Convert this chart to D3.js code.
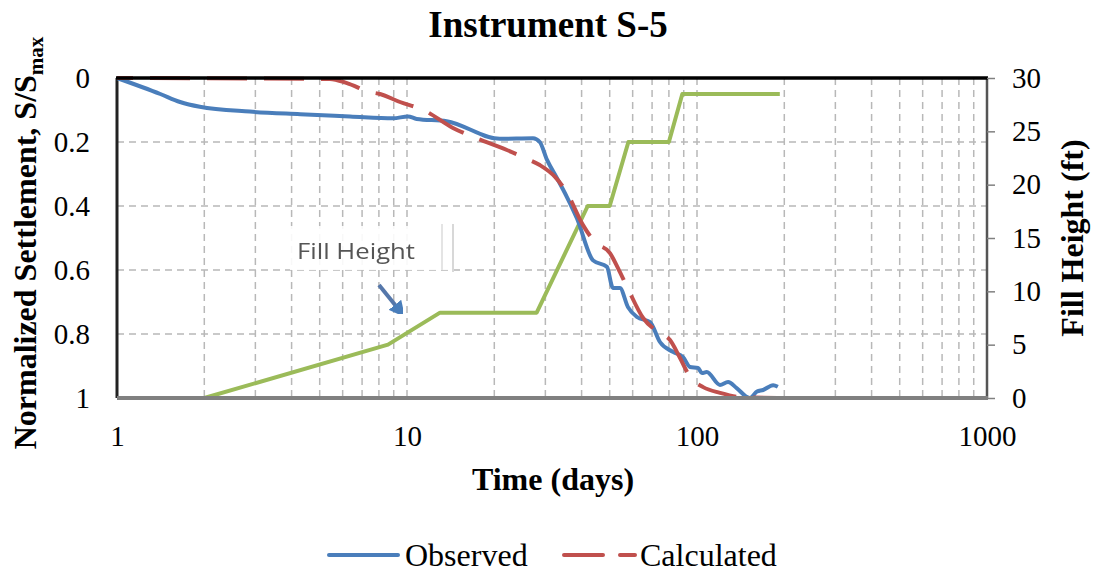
<!DOCTYPE html>
<html><head><meta charset="utf-8">
<script src="https://cdn.jsdelivr.net/npm/d3@7/dist/d3.min.js"></script>
<style>body{margin:0;background:#fff}svg{display:block}</style>
</head><body><svg id="c" width="1095" height="574"></svg>
<script>
const titleText = "Instrument S-5";
const xTicks = [1, 10, 100, 1000];
const leftTicks = [0, 0.2, 0.4, 0.6, 0.8, 1];
const rightTicks = [0, 5, 10, 15, 20, 25, 30];

const observedT = [1, 1.41, 1.65, 1.93, 2.87, 4.28, 6.36, 8.95, 10.08, 10.8, 13.7, 20.9, 27.2, 28.7, 30.4, 32.9, 35.6, 38.6, 43.8, 48.9, 51.3, 54.2, 57.8, 62.1, 68.9, 74.5, 82.6, 89.5, 94.6, 100.8, 104, 108, 120, 128, 137, 152, 161, 169, 183, 190];
const observedS = [0, 0.05, 0.075, 0.09, 0.105, 0.113, 0.12, 0.126, 0.12, 0.128, 0.135, 0.19, 0.188, 0.2, 0.256, 0.313, 0.372, 0.44, 0.57, 0.59, 0.656, 0.656, 0.716, 0.747, 0.763, 0.825, 0.856, 0.872, 0.903, 0.906, 0.922, 0.919, 0.959, 0.95, 0.969, 1.0, 0.98, 0.975, 0.96, 0.965];

const calcT = [1, 5.42, 6.21, 7.45, 8.07, 9.46, 11.4, 14.4, 16.9, 22.1, 25.5, 28.7, 32.4, 35.6, 40.4, 44.5, 50.1, 53.4, 57.4, 65.2, 73.4, 80.7, 87.4, 94.6, 105, 120, 141, 189];
const calcS = [0, 0.003, 0.016, 0.044, 0.05, 0.075, 0.1, 0.156, 0.184, 0.225, 0.25, 0.272, 0.309, 0.359, 0.459, 0.513, 0.547, 0.594, 0.653, 0.75, 0.794, 0.819, 0.875, 0.934, 0.966, 0.984, 0.997, 1.0];

const fillT = [1, 2, 8.6, 13, 28, 42, 50, 58, 80, 89, 193];
const fillH = [0, 0, 5, 8, 8, 18, 18, 24, 24, 28.5, 28.5];

const svg = d3.select("#c");
const L = 117, R = 987, T = 78, B = 398;
const x = d3.scaleLog().domain([1, 1000]).range([L, R]);
const yL = d3.scaleLinear().domain([0, 1]).range([T, B]);
const yR = d3.scaleLinear().domain([0, 30]).range([B, T]);
const serif = "'Liberation Serif','Times New Roman',serif";

// gridlines
const minor = [];
[1, 10, 100].forEach(d => { for (let k = 2; k <= 9; k++) minor.push(d * k); });
minor.push(10, 100);
svg.append("g").selectAll("line").data(minor).join("line")
  .attr("x1", d => x(d)).attr("x2", d => x(d)).attr("y1", T).attr("y2", B)
  .attr("stroke", "#b8b8b8").attr("stroke-width", 1.5).attr("stroke-dasharray", "7,5");
svg.append("g").selectAll("line").data(leftTicks.slice(1, -1)).join("line")
  .attr("x1", L).attr("x2", R).attr("y1", d => yL(d)).attr("y2", d => yL(d))
  .attr("stroke", "#b8b8b8").attr("stroke-width", 1.5).attr("stroke-dasharray", "7,5");

// frame
svg.append("line").attr("x1", L).attr("x2", L).attr("y1", T).attr("y2", B).attr("stroke", "#222").attr("stroke-width", 3);
svg.append("line").attr("x1", R).attr("x2", R).attr("y1", T).attr("y2", B).attr("stroke", "#555").attr("stroke-width", 2.5);

// series
const lineO = d3.line().x(d => x(d[0])).y(d => yL(d[1])).curve(d3.curveMonotoneX);
const lineF = d3.line().x(d => x(d[0])).y(d => yR(d[1]));
svg.append("path").datum(fillT.map((t, i) => [t, fillH[i]])).attr("d", lineF)
  .attr("fill", "none").attr("stroke", "#9BBB59").attr("stroke-width", 4).attr("stroke-linejoin", "round");
svg.append("path").datum(observedT.map((t, i) => [t, observedS[i]])).attr("d", lineO)
  .attr("fill", "none").attr("stroke", "#4A7EBB").attr("stroke-width", 4).attr("stroke-linejoin", "round");
svg.append("path").datum(calcT.map((t, i) => [t, calcS[i]])).attr("d", lineO)
  .attr("fill", "none").attr("stroke", "#C0504D").attr("stroke-width", 4)
  .attr("stroke-dasharray", "40,17").attr("stroke-dashoffset", 24);

svg.append("line").attr("x1", L - 1).attr("x2", R + 1).attr("y1", T).attr("y2", T).attr("stroke", "#000").attr("stroke-width", 3.5);
svg.append("line").attr("x1", L).attr("x2", R + 1).attr("y1", B).attr("y2", B).attr("stroke", "#808080").attr("stroke-width", 4);

// axes
const ax = svg.append("g").attr("transform", `translate(0,${B})`)
  .call(d3.axisBottom(x).tickValues(xTicks).tickFormat(d3.format("d")).tickSize(0).tickPadding(27));
const al = svg.append("g").attr("transform", `translate(${L},0)`)
  .call(d3.axisLeft(yL).tickValues(leftTicks).tickFormat(d => d === 0 || d === 1 ? d3.format("d")(d) : d3.format(".1f")(d)).tickSize(0).tickPadding(27));
const ar = svg.append("g").attr("transform", `translate(${R},0)`)
  .call(d3.axisRight(yR).tickValues(rightTicks).tickSize(8).tickPadding(17));
[ax, al, ar].forEach(g => {
  g.select(".domain").remove();
  g.selectAll("text").attr("font-family", serif).attr("font-size", 29).attr("fill", "#000");
});
ar.selectAll("line").attr("stroke", "#808080").attr("stroke-width", 1.5);

// titles
svg.append("text").attr("x", 548).attr("y", 37).attr("text-anchor", "middle")
  .attr("font-family", serif).attr("font-weight", "bold").attr("font-size", 37).text(titleText);
svg.append("text").attr("x", 553).attr("y", 490).attr("text-anchor", "middle")
  .attr("font-family", serif).attr("font-weight", "bold").attr("font-size", 32).text("Time (days)");
const lt = svg.append("text").attr("transform", "translate(36,243) rotate(-90)").attr("text-anchor", "middle")
  .attr("font-family", serif).attr("font-weight", "bold").attr("font-size", 32);
lt.append("tspan").text("Normalized Settlement, S/S");
lt.append("tspan").attr("font-size", 21).attr("dy", 7).text("max");
svg.append("text").attr("transform", "translate(1083,238) rotate(-90)").attr("text-anchor", "middle")
  .attr("font-family", serif).attr("font-weight", "bold").attr("font-size", 32).text("Fill Height (ft)");

// annotation
const defs = svg.append("defs");
defs.append("filter").attr("id", "bl").append("feGaussianBlur").attr("stdDeviation", 0.6);
svg.append("rect").attr("x", 290).attr("y", 226).attr("width", 160).attr("height", 44).attr("fill", "#fff").attr("opacity", 0.9);
svg.append("line").attr("x1", 442).attr("x2", 442).attr("y1", 224).attr("y2", 270).attr("stroke", "#e4e4e4").attr("stroke-width", 2);
svg.append("line").attr("x1", 453).attr("x2", 453).attr("y1", 224).attr("y2", 272).attr("stroke", "#d8d8d8").attr("stroke-width", 2);
svg.append("text").attr("x", 297).attr("y", 259).attr("font-family", "'Open Sans',Lato,sans-serif").attr("font-size", 22)
  .attr("fill", "#555").attr("textLength", 118).attr("lengthAdjust", "spacingAndGlyphs")
  .attr("filter", "url(#bl)").text("Fill Height");
defs.append("marker").attr("id", "ah").attr("viewBox", "0 0 10 10").attr("refX", 5).attr("refY", 5)
  .attr("markerWidth", 4).attr("markerHeight", 4).attr("orient", "auto")
  .append("path").attr("d", "M0,0 L10,5 L0,10 Z").attr("fill", "#4A7EBB");
svg.append("line").attr("x1", 379).attr("y1", 285).attr("x2", 400).attr("y2", 311)
  .attr("stroke", "#5577aa").attr("stroke-width", 4).attr("marker-end", "url(#ah)").attr("filter", "url(#bl)");

// legend
const lg = svg.append("g");
lg.append("line").attr("x1", 329).attr("x2", 398).attr("y1", 555).attr("y2", 555).attr("stroke", "#4A7EBB").attr("stroke-width", 4).attr("stroke-linecap", "round");
lg.append("text").attr("x", 405).attr("y", 566).attr("font-family", serif).attr("font-size", 32).text("Observed");
lg.append("line").attr("x1", 564).attr("x2", 635).attr("y1", 555).attr("y2", 555).attr("stroke", "#C0504D").attr("stroke-width", 4).attr("stroke-dasharray", "39,17").attr("stroke-linecap", "round");
lg.append("text").attr("x", 640).attr("y", 566).attr("font-family", serif).attr("font-size", 32).text("Calculated");
</script></body></html>
